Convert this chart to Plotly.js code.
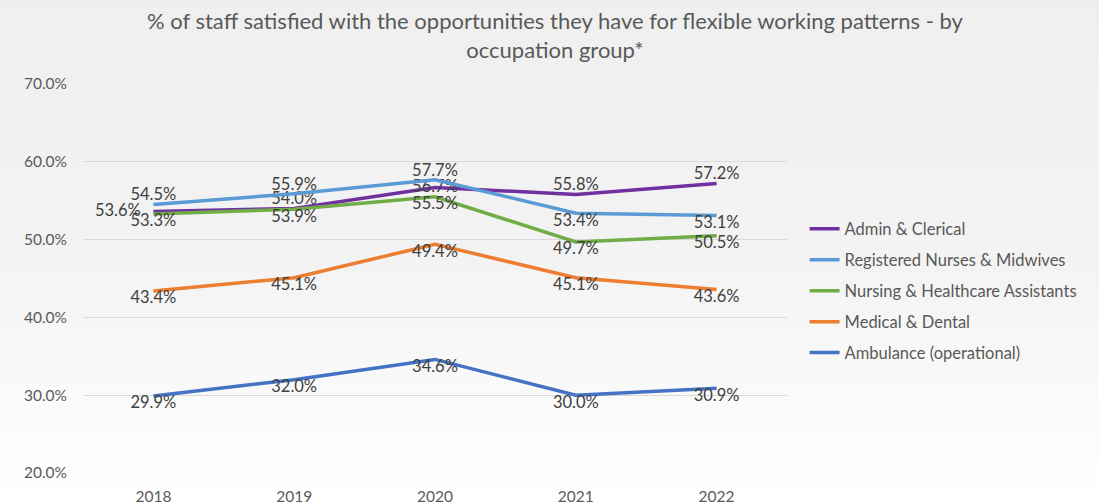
<!DOCTYPE html>
<html>
<head>
<meta charset="utf-8">
<script src="https://cdn.plot.ly/plotly-3.0.1.min.js"></script>
<style>
html,body{margin:0;padding:0;}
body{width:1099px;height:504px;background:linear-gradient(to bottom,#efefef 0%,#f3f3f3 50%,#ffffff 100%);}
#chart{width:1099px;height:504px;}
</style>
</head>
<body>
<div id="chart"></div>
<script>
var years = ["2018", "2019", "2020", "2021", "2022"];
var adminClerical = [53.6, 54.0, 56.7, 55.8, 57.2];
var registeredNurses = [54.5, 55.9, 57.7, 53.4, 53.1];
var nursingHCA = [53.3, 53.9, 55.5, 49.7, 50.5];
var medicalDental = [43.4, 45.1, 49.4, 45.1, 43.6];
var ambulance = [29.9, 32.0, 34.6, 30.0, 30.9];
var yTicks = [20, 30, 40, 50, 60, 70];

var seriesNames = ["Admin & Clerical", "Registered Nurses & Midwives", "Nursing & Healthcare Assistants", "Medical & Dental", "Ambulance (operational)"];
var seriesData = [adminClerical, registeredNurses, nursingHCA, medicalDental, ambulance];
var colors = ["#7030a0", "#5b9bd5", "#70ad47", "#ed7d31", "#4472c4"];
var positions = [
  ["middle left", "top center", "middle center", "top center", "top center"],
  ["top center", "top center", "top center", "bottom center", "bottom center"],
  ["bottom center", "bottom center", "bottom center", "bottom center", "bottom center"],
  ["bottom center", "bottom center", "bottom center", "bottom center", "bottom center"],
  ["bottom center", "bottom center", "bottom center", "bottom center", "bottom center"]
];
var FONT = "Lato, 'Open Sans', sans-serif";

var traces = seriesData.map(function (vals, i) {
  return {
    type: "scatter",
    mode: "lines+text",
    name: seriesNames[i],
    legendgroup: "g" + i,
    x: years,
    y: vals,
    text: vals.map(function (v, j) {
      var s = v.toFixed(1) + "%";
      if (positions[i][j] === "middle left") s = s + "\u00a0\u00a0\u00a0";
      return s;
    }),
    textposition: positions[i],
    textfont: {family: FONT, size: 16.5, color: "#404040"},
    line: {color: colors[i], width: 3.5},
    cliponaxis: false,
    hoverinfo: "skip"
  };
});

var layout = {
  width: 1099,
  height: 504,
  paper_bgcolor: "rgba(0,0,0,0)",
  plot_bgcolor: "rgba(0,0,0,0)",
  margin: {l: 83, r: 312, t: 84, b: 31},
  font: {family: FONT, color: "#595959"},
  title: {
    text: "% of staff satisfied with the opportunities they have for flexible working patterns - by<br>occupation group*",
    font: {family: FONT, size: 22, color: "#595959"},
    x: 0.505,
    xanchor: "center",
    yref: "container",
    y: 0.942,
    yanchor: "middle"
  },
  xaxis: {
    type: "category",
    range: [-0.5, 4.5],
    showgrid: false,
    zeroline: false,
    showline: false,
    ticks: "",
    ticklabelstandoff: 12,
    tickfont: {family: FONT, size: 15.5, color: "#595959"},
    fixedrange: true
  },
  yaxis: {
    range: [20, 70],
    tickvals: yTicks,
    ticktext: yTicks.map(function (v) { return v.toFixed(1) + "%"; }),
    showgrid: true,
    gridcolor: "#d9d9d9",
    gridwidth: 1,
    zeroline: false,
    showline: false,
    ticks: "",
    ticklabelstandoff: 15,
    tickfont: {family: FONT, size: 15.5, color: "#595959"},
    fixedrange: true
  },
  showlegend: true,
  legend: {
    x: 1.025,
    xanchor: "left",
    y: 0.672,
    yanchor: "top",
    traceorder: "grouped",
    tracegroupgap: 6.5,
    bgcolor: "rgba(0,0,0,0)",
    font: {family: FONT, size: 16.5, color: "#595959"}
  }
};

Plotly.newPlot("chart", traces, layout, {displayModeBar: false, staticPlot: true});
</script>
</body>
</html>
